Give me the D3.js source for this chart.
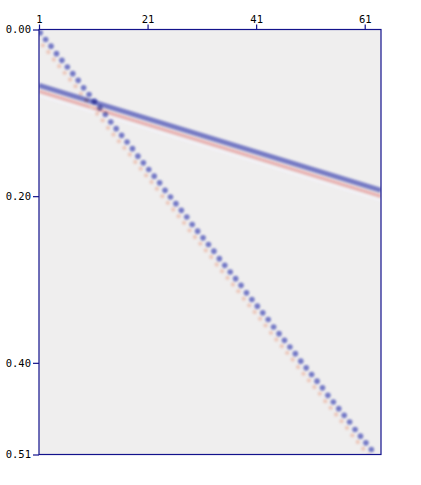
<!DOCTYPE html>
<html><head><meta charset="utf-8">
<script src="https://cdn.jsdelivr.net/npm/d3@7"></script>
<style>body{margin:0;background:#fff}svg{display:block}</style>
</head><body>
<script>
// ---- data ----
const traceTicks = [1, 21, 41, 61];
const timeTicks = [0.00, 0.20, 0.40, 0.51];
const traceDomain = [1, 64];
const timeDomain = [0, 0.51];
// steep dipping event: arrival time (s) per trace 1..62
const steepTimes = [0.004,0.012,0.020,0.029,0.037,0.045,0.053,0.061,0.070,0.078,
  0.086,0.094,0.102,0.111,0.119,0.127,0.135,0.143,0.152,0.160,
  0.168,0.176,0.184,0.193,0.201,0.209,0.217,0.225,0.234,0.242,
  0.250,0.258,0.266,0.275,0.283,0.291,0.299,0.307,0.316,0.324,
  0.332,0.340,0.348,0.357,0.365,0.373,0.381,0.389,0.398,0.406,
  0.414,0.422,0.430,0.439,0.447,0.455,0.463,0.471,0.480,0.488,
  0.496,0.504];
// gentle event: end points (trace, time)
const gentleTraces = [1, 64];
const gentleTimes = [0.067, 0.193];
const lobeDelay = 0.007;

const W = 421, H = 485;
const m = {left: 39, top: 29.5, right: 40, bottom: 30.5};
const iw = W - m.left - m.right, ih = H - m.top - m.bottom;

const svg = d3.select("body").append("svg").attr("width", W).attr("height", H);
const defs = svg.append("defs");
defs.append("clipPath").attr("id", "clip").append("rect").attr("width", iw).attr("height", ih);
const f = defs.append("filter").attr("id", "blur").attr("x", "-20%").attr("y", "-20%").attr("width", "140%").attr("height", "140%");
f.append("feGaussianBlur").attr("stdDeviation", 1.1);

const x = d3.scaleLinear().domain(traceDomain).range([0, iw]);
const y = d3.scaleLinear().domain(timeDomain).range([0, ih]);

const g = svg.append("g").attr("transform", `translate(${m.left},${m.top})`);
g.append("rect").attr("width", iw).attr("height", ih).attr("fill", "#efeeee");

const plot = g.append("g").attr("clip-path", "url(#clip)");
const layer = plot.append("g").attr("filter", "url(#blur)");

// gentle event: pink lobe then blue peak
const gentle = gentleTraces.map((t, i) => [t, gentleTimes[i]]);
const line = d3.line().x(d => x(d[0])).y(d => y(d[1]));
layer.append("path").datum(gentle.map(d => [d[0], d[1] + lobeDelay]))
  .attr("d", line).attr("fill", "none").attr("stroke", "#e8b4b4").attr("stroke-width", 3.6);
layer.append("path").datum(gentle.map(d => [d[0], d[1] + lobeDelay * 1.8]))
  .attr("d", line).attr("fill", "none").attr("stroke", "#f3f2f8").attr("stroke-width", 2);

// steep event
const steep = steepTimes.map((t, i) => ({trace: i + 1, time: t}));
layer.selectAll("circle.lobe").data(steep).join("circle").attr("class", "lobe")
  .attr("cx", d => x(d.trace) - 1.5).attr("cy", d => y(d.time + lobeDelay))
  .attr("r", 2.2).attr("fill", "#ecc9bd");

const blueLayer = plot.append("g").attr("filter", "url(#blur)").style("mix-blend-mode", "multiply");
blueLayer.append("path").datum(gentle)
  .attr("d", line).attr("fill", "none").attr("stroke", "#767ac4").attr("stroke-width", 5);
const dotLayer = plot.append("g").attr("filter", "url(#blur)").style("mix-blend-mode", "multiply");
dotLayer.selectAll("circle").data(steep).join("circle")
  .attr("cx", d => x(d.trace) + 1.2).attr("cy", d => y(d.time))
  .attr("r", 2.8).attr("fill", "#7479c6");

// frame
g.append("rect").attr("width", iw).attr("height", ih).attr("fill", "none")
  .attr("stroke", "#12128c").attr("stroke-width", 1.2);

const font = "'DejaVu Sans Mono', monospace";
const ax = g.append("g").call(d3.axisTop(x).tickValues(traceTicks).tickSize(5).tickPadding(2).tickFormat(d3.format("d")));
const ay = g.append("g").call(d3.axisLeft(y).tickValues(timeTicks).tickSize(6).tickPadding(2).tickFormat(d3.format(".2f")));
[ax, ay].forEach(a => {
  a.select(".domain").remove();
  a.selectAll(".tick line").attr("stroke", "#12128c").attr("stroke-width", 1.2);
  a.selectAll("text").attr("fill", "#000").style("font-family", font).style("font-size", "10.5px");
});
</script>
</body></html>
